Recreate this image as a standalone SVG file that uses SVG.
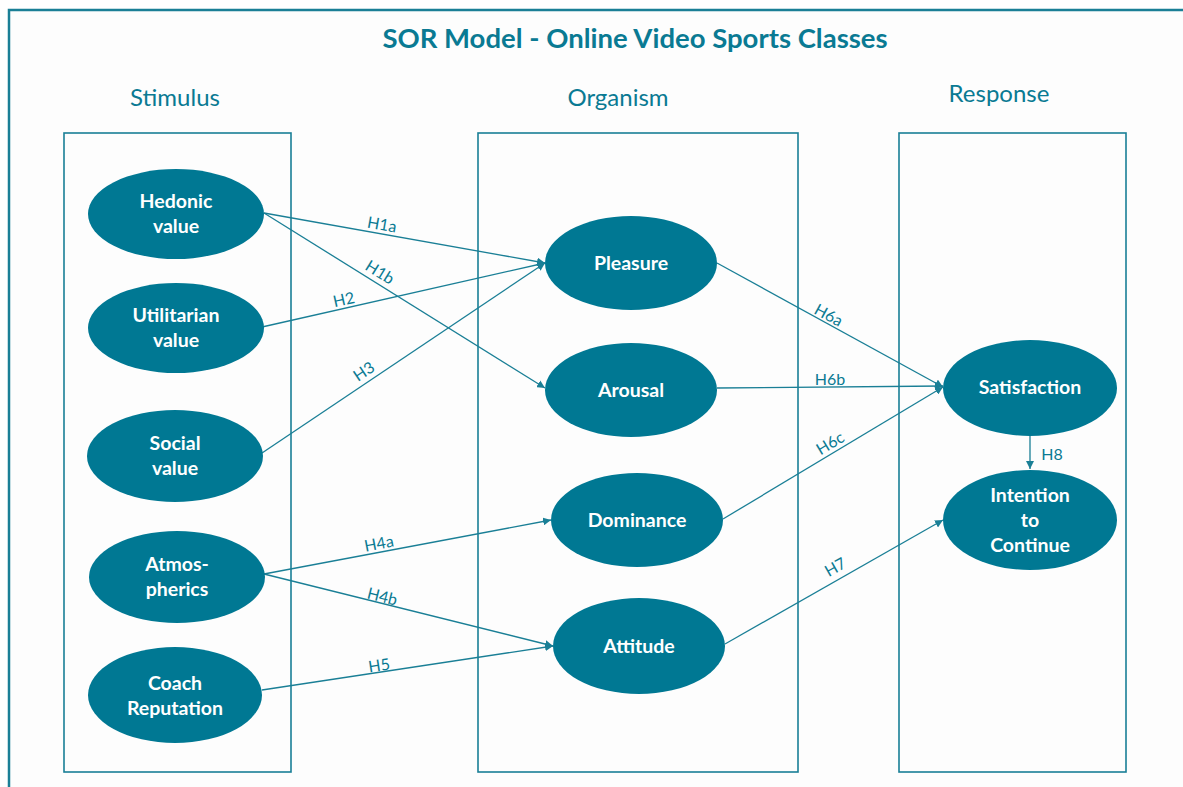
<svg xmlns="http://www.w3.org/2000/svg" width="1183" height="787" viewBox="0 0 1183 787">
<style>
.frame{fill:#fdfdfd;stroke:#1a7f96;stroke-width:2.5}
.box{fill:none;stroke:#1a7f96;stroke-width:1.6}
.node{fill:#007893}
.nt{fill:#ffffff;font-family:Lato,"Open Sans",sans-serif;font-weight:bold;font-size:19.5px;text-anchor:middle}
.title{fill:#0a7a93;font-family:Lato,"Open Sans",sans-serif;font-weight:bold;font-size:27.5px;text-anchor:middle}
.head{fill:#0a7a93;font-family:Lato,"Open Sans",sans-serif;font-size:24px;text-anchor:middle}
.edge{stroke:#1a7f96;stroke-width:1.3;fill:none;marker-end:url(#arr)}
.lbl{fill:#0a7a93;font-family:Lato,"Open Sans",sans-serif;font-size:16px;text-anchor:middle}
</style>
<defs>
<marker id="arr" viewBox="0 0 10 10" refX="10" refY="5" markerWidth="8" markerHeight="8" markerUnits="userSpaceOnUse" orient="auto">
<path d="M0,0 L10,5 L0,10 z" fill="#1a7f96"/>
</marker>
</defs>
<rect x="0" y="0" width="1183" height="787" fill="#ffffff"/>
<rect class="frame" x="9" y="10" width="1190" height="800"/>
<text class="title" x="635" y="48">SOR Model - Online Video Sports Classes</text>
<text class="head" x="175" y="106">Stimulus</text>
<text class="head" x="618" y="106">Organism</text>
<text class="head" x="999" y="102">Response</text>
<rect class="box" x="64" y="133" width="227" height="639"/>
<rect class="box" x="478" y="133" width="320" height="639"/>
<rect class="box" x="899" y="133" width="227" height="639"/>
<g id="connectors">
<line class="edge" x1="264" y1="213" x2="545" y2="263"/>
<line class="edge" x1="264" y1="213" x2="545" y2="388"/>
<line class="edge" x1="262" y1="327" x2="545" y2="263"/>
<line class="edge" x1="262" y1="453" x2="545" y2="263"/>
<line class="edge" x1="264" y1="574" x2="551" y2="520"/>
<line class="edge" x1="264" y1="574" x2="553" y2="646"/>
<line class="edge" x1="262" y1="690" x2="553" y2="646"/>
<line class="edge" x1="717" y1="263" x2="943" y2="387"/>
<line class="edge" x1="717" y1="388" x2="943" y2="386"/>
<line class="edge" x1="723" y1="519" x2="943" y2="387"/>
<line class="edge" x1="725" y1="644" x2="943" y2="520"/>
<line class="edge" x1="1030" y1="436" x2="1030" y2="469"/>
<text class="lbl" transform="translate(381,230) rotate(10.1)">H1a</text>
<text class="lbl" transform="translate(377,277) rotate(31.9)">H1b</text>
<text class="lbl" transform="translate(345,305) rotate(-12.7)">H2</text>
<text class="lbl" transform="translate(367,376) rotate(-33.9)">H3</text>
<text class="lbl" transform="translate(380,549) rotate(-10.7)">H4a</text>
<text class="lbl" transform="translate(381,602) rotate(14)">H4b</text>
<text class="lbl" transform="translate(380,671) rotate(-8.6)">H5</text>
<text class="lbl" transform="translate(826,320) rotate(28.8)">H6a</text>
<text class="lbl" x="830" y="385">H6b</text>
<text class="lbl" transform="translate(833,448) rotate(-31)">H6c</text>
<text class="lbl" transform="translate(838,572) rotate(-29.6)">H7</text>
<text class="lbl" x="1052" y="460">H8</text>
</g>
<g id="hedonic"><ellipse class="node" cx="176" cy="214" rx="88" ry="45"/><text class="nt" x="176" y="208">Hedonic</text><text class="nt" x="176" y="233">value</text></g>
<g id="utilitarian"><ellipse class="node" cx="176" cy="328" rx="88" ry="45"/><text class="nt" x="176" y="322">Utilitarian</text><text class="nt" x="176" y="347">value</text></g>
<g id="social"><ellipse class="node" cx="175" cy="456" rx="88" ry="46"/><text class="nt" x="175" y="450">Social</text><text class="nt" x="175" y="475">value</text></g>
<g id="atmospherics"><ellipse class="node" cx="177" cy="577" rx="88" ry="46"/><text class="nt" x="177" y="571">Atmos-</text><text class="nt" x="177" y="596">pherics</text></g>
<g id="coach"><ellipse class="node" cx="175" cy="695" rx="87" ry="48"/><text class="nt" x="175" y="690">Coach</text><text class="nt" x="175" y="715">Reputation</text></g>
<g id="pleasure"><ellipse class="node" cx="631" cy="263" rx="86" ry="47"/><text class="nt" x="631" y="270">Pleasure</text></g>
<g id="arousal"><ellipse class="node" cx="631" cy="390" rx="86" ry="47"/><text class="nt" x="631" y="397">Arousal</text></g>
<g id="dominance"><ellipse class="node" cx="637" cy="520" rx="86" ry="47"/><text class="nt" x="637" y="527">Dominance</text></g>
<g id="attitude"><ellipse class="node" cx="639" cy="646" rx="86" ry="48"/><text class="nt" x="639" y="653">Attitude</text></g>
<g id="satisfaction"><ellipse class="node" cx="1030" cy="388" rx="87" ry="48"/><text class="nt" x="1030" y="394">Satisfaction</text></g>
<g id="intention"><ellipse class="node" cx="1030" cy="520" rx="87" ry="50"/><text class="nt" x="1030" y="502">Intention</text><text class="nt" x="1030" y="527">to</text><text class="nt" x="1030" y="552">Continue</text></g>
</svg>
